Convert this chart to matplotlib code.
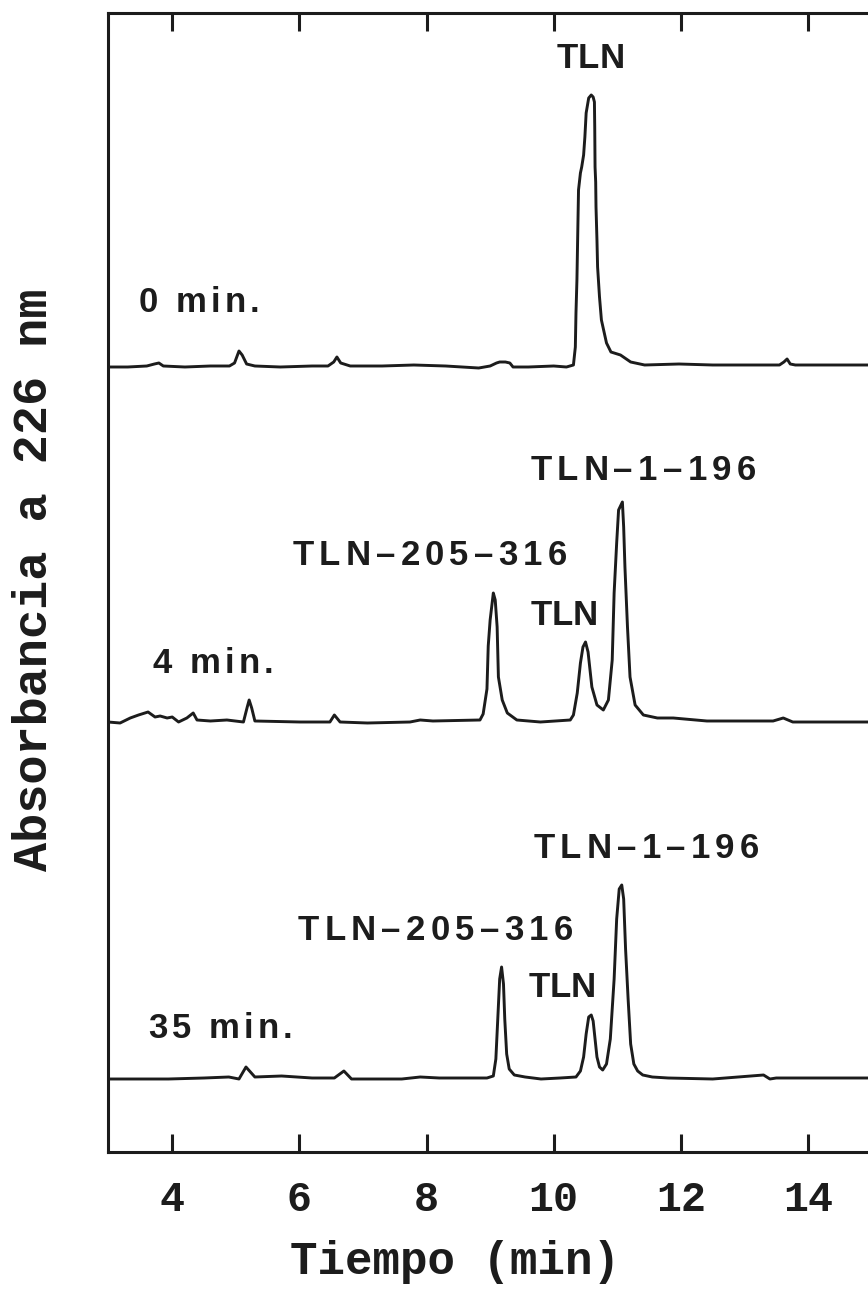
# HPLC traces of thermolysin (TLN) autolysis at 0, 4 and 35 min
import numpy as np
import matplotlib
matplotlib.use("Agg")
import matplotlib.pyplot as plt
from matplotlib.font_manager import FontProperties, findfont, get_font
from matplotlib.ft2font import LOAD_NO_HINTING

# trace: time (min), height above baseline (a.u.)
t_0min = [2.99, 3.3, 3.6, 3.72, 3.79, 3.86, 4.2, 4.6, 4.9, 4.98, 5.05, 5.1, 5.17, 5.3, 5.7,
          6.2, 6.45, 6.54, 6.59, 6.65, 6.8, 7.3, 7.8, 8.3, 8.82, 9.0, 9.1, 9.15, 9.24, 9.31,
          9.36, 9.6, 10.0, 10.2, 10.31, 10.34, 10.35, 10.365, 10.376, 10.39, 10.42, 10.44,
          10.47, 10.49, 10.51, 10.55, 10.59, 10.62, 10.64, 10.645, 10.65, 10.66, 10.665,
          10.68, 10.69, 10.72, 10.75, 10.83, 10.9, 11.05, 11.21, 11.43, 11.97, 12.5, 13.02,
          13.55, 13.62, 13.67, 13.72, 13.8, 14.4, 15.05]
a_0min = [0, 0, 1, 3, 4, 1, 0, 1, 1, 4, 16, 12, 3, 1, 0,
          1, 1, 5, 10, 4, 1, 1, 2, 1, -1, 1, 4, 5, 5, 4,
          0, 0, 1, 0, 2, 20, 54, 87, 127, 177, 194, 200,
          212, 230, 254, 269, 272, 270, 265, 240, 200, 185, 160,
          127, 100, 70, 47, 24, 15, 12, 5, 2, 3, 2, 2,
          2, 5, 8, 3, 2, 2, 2]

t_4min = [2.99, 3.18, 3.34, 3.47, 3.62, 3.73, 3.81, 3.92, 4.0, 4.1, 4.23, 4.33, 4.39, 4.6,
          4.86, 5.12, 5.18, 5.21, 5.25, 5.3, 6.01, 6.48, 6.55, 6.64, 7.07, 7.74, 7.9, 8.1,
          8.84, 8.89, 8.95, 8.97, 9.0, 9.05, 9.08, 9.11, 9.13, 9.19, 9.27, 9.42, 9.79, 10.26,
          10.31, 10.37, 10.42, 10.46, 10.5, 10.54, 10.6, 10.68, 10.78, 10.86, 10.92, 10.95,
          10.99, 11.02, 11.08, 11.1, 11.12, 11.16, 11.2, 11.28, 11.41, 11.63, 11.88, 12.41,
          13.45, 13.61, 13.76, 14.3, 15.05]
a_4min = [0, -1, 4, 7, 10, 5, 6, 4, 5, 0, 4, 9, 2, 1,
          2, 0, 15, 22, 14, 1, 0, 0, 7, 0, -1, 0, 2, 1,
          2, 8, 33, 76, 102, 129, 122, 95, 45, 22, 9, 2, 0, 2,
          7, 29, 59, 75, 80, 70, 35, 17, 12, 22, 62, 129,
          179, 212, 220, 195, 155, 95, 45, 17, 7, 4, 4, 1,
          1, 4, 0, 0, 0]

t_35min = [2.99, 3.5, 3.94, 4.5, 4.89, 5.05, 5.16, 5.3, 5.72, 6.2, 6.55, 6.7, 6.82, 7.3,
           7.61, 7.9, 8.2, 8.6, 8.95, 9.05, 9.09, 9.12, 9.15, 9.18, 9.21, 9.23, 9.26, 9.3,
           9.38, 9.55, 9.8, 10.1, 10.35, 10.42, 10.47, 10.51, 10.55, 10.59, 10.62, 10.65,
           10.68, 10.72, 10.77, 10.83, 10.89, 10.95, 10.99, 11.03, 11.07, 11.1, 11.13, 11.17,
           11.21, 11.26, 11.32, 11.4, 11.55, 11.8, 12.5, 13.3, 13.4, 13.5, 14.2, 15.05]
a_35min = [0, 0, 0, 1, 2, 0, 12, 2, 3, 1, 1, 8, 0, 0,
           0, 2, 1, 1, 1, 3, 20, 60, 100, 112, 95, 60, 25, 10,
           4, 2, 0, 1, 2, 8, 22, 45, 62, 64, 58, 40,
           22, 12, 9, 15, 40, 100, 160, 190, 194, 180, 130, 80,
           35, 15, 8, 4, 2, 1, 0, 4, 0, 1, 1, 1]

traces = [("0 min.", t_0min, a_0min), ("4 min.", t_4min, a_4min), ("35 min.", t_35min, a_35min)]
for _, t, a in traces:
    assert len(t) == len(a)

x_ticks = [4, 6, 8, 10, 12, 14]

# vertical stacking of the three runs
offsets = [712, 357, 0]

INK = "#1c1c1c"
MONO = "Liberation Mono"
SANS = "Liberation Sans"


def tracked_text(ax, x, y, s, size=25, track=0.0):
    """Draw s letter by letter with extra spacing (points) between glyphs."""
    fp = FontProperties(family=SANS, weight="bold", size=size)
    font = get_font(findfont(fp), hinting_factor=1)
    font.set_size(size, 72)
    off = 0.0
    for ch in s:
        if ch != " ":
            ax.annotate(ch, (x, y), xytext=(off, 0), textcoords="offset points",
                        fontproperties=fp, ha="left", va="baseline", color=INK,
                        annotation_clip=False)
        g = font.load_char(ord(ch), flags=LOAD_NO_HINTING)
        off += g.horiAdvance / 64.0 + track


fig = plt.figure(figsize=(8.68, 12.96), dpi=100)
ax = fig.add_axes([108 / 868, 144 / 1296, 770 / 868, 1139 / 1296])

for (name, t, a), off in zip(traces, offsets):
    ax.plot(t, np.array(a) + off, color=INK, lw=2.1, solid_joinstyle="round")

ax.set_xlim(2.99, 15.1)
ax.set_ylim(-73, 1066)
ax.set_xticks(x_ticks)
ax.set_yticks([])
ax.tick_params(axis="x", direction="in", length=13, width=2.2, top=True, bottom=True,
               labelsize=30, pad=20, colors=INK)
for lab in ax.get_xticklabels():
    lab.set_fontfamily(MONO)
    lab.set_fontweight("bold")
for side in ["left", "top", "bottom"]:
    ax.spines[side].set_linewidth(2.2)
    ax.spines[side].set_color(INK)
ax.spines["right"].set_visible(False)

# peak labels
tracked_text(ax, 10.05, 1011, "TLN")
tracked_text(ax, 3.47, 767, "0 min.", track=3)

tracked_text(ax, 9.63, 599, "TLN–1–196", track=3.8)
tracked_text(ax, 5.89, 514, "TLN–205–316", track=3.8)
tracked_text(ax, 9.63, 454, "TLN")
tracked_text(ax, 3.69, 406, "4 min.", track=3)

tracked_text(ax, 9.68, 221, "TLN–1–196", track=3.8)
tracked_text(ax, 5.98, 139, "TLN–205–316", track=3.8)
tracked_text(ax, 9.6, 82, "TLN")
tracked_text(ax, 3.62, 41, "35 min.", track=3)

fig.text(455 / 868, 1 - 1262 / 1296, "Tiempo (min)", fontfamily=MONO, fontweight="bold",
         fontsize=33, ha="center", va="center", color=INK)
fig.text(35 / 868, 1 - 580 / 1296, "Absorbancia a 226 nm", fontfamily=MONO,
         fontweight="bold", fontsize=35, rotation=90, ha="center", va="center", color=INK)

fig.savefig("out.png", dpi=100, facecolor="white")
